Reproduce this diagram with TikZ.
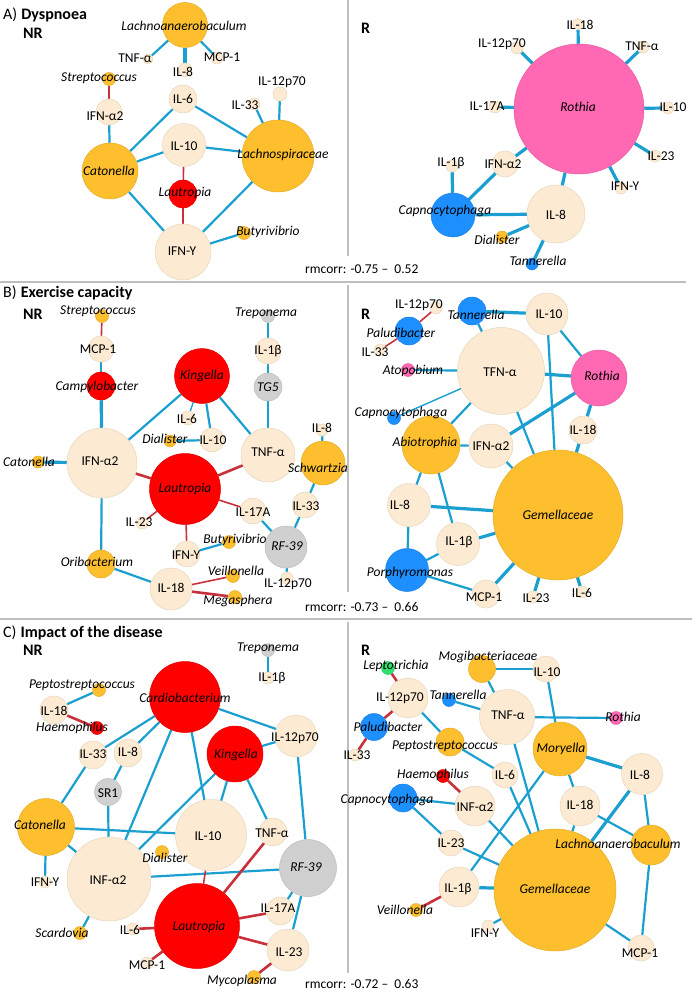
\documentclass[tikz,border=0pt]{standalone}
\usepackage{fontspec}
\setmainfont{Carlito}
\definecolor{cream}{HTML}{FCEBD2}
\definecolor{creamln}{HTML}{E6D6BC}
\definecolor{orng}{HTML}{FDBF2D}
\definecolor{pnk}{HTML}{FF69B4}
\definecolor{blu}{HTML}{1E8FFF}
\definecolor{gry}{HTML}{D0D0D0}
\definecolor{grn}{HTML}{2EE06E}
\definecolor{eblue}{HTML}{1A9FD0}
\definecolor{ered}{HTML}{C8303C}
\definecolor{frame}{HTML}{BFBFBF}
\pgfdeclarelayer{edges}
\pgfdeclarelayer{labels}
\pgfsetlayers{edges,main,labels}
\tikzset{
 nd/.style={circle, inner sep=0pt, line width=0.5pt},
 ncr/.style={nd, fill=cream, draw=creamln},
 nor/.style={nd, fill=orng, draw=orng!90!black},
 nrd/.style={nd, fill=red, draw=red!90!black},
 npk/.style={nd, fill=pnk, draw=pnk!90!black},
 nbl/.style={nd, fill=blu, draw=blu!90!black},
 ngy/.style={nd, fill=gry, draw=gry!90!black},
 ngn/.style={nd, fill=grn, draw=grn!90!black},
 lb/.style={inner sep=0pt, font=\fontsize{13.5}{15}\selectfont, text=black},
 ttl/.style={inner sep=0pt, anchor=west, font=\fontsize{16}{18}\selectfont},
 eb/.style={draw=eblue, line width=2.2pt},
 ek/.style={draw=eblue, line width=3.2pt},
 en/.style={draw=eblue, line width=1.4pt},
 er/.style={draw=ered, line width=1.6pt},
 erk/.style={draw=ered, line width=2.6pt},
 fr/.style={draw=frame, line width=2pt}
}
\newcommand\mynd[8]{\node[#5, minimum size=#4pt] (#1) at (#2,#3) {};
 \begin{pgfonlayer}{labels}\node[lb] (#1-t) at (#6,#7) {#8};\end{pgfonlayer}}
\begin{document}
\begin{tikzpicture}[x=1pt,y=-1pt]
\useasboundingbox (0,0) rectangle (692,992);
% frame
\coordinate (h1a) at (0,282); \coordinate (h1b) at (686,282);
\coordinate (h2a) at (0,619); \coordinate (h2b) at (692,619);
\coordinate (v1a) at (348,0); \coordinate (v1b) at (348,256);
\coordinate (v2a) at (348,285); \coordinate (v2b) at (348,592);
\coordinate (v3a) at (348,622); \coordinate (v3b) at (348,973);
\draw[fr] (h1a) -- (h1b);
\draw[fr] (h2a) -- (h2b);
\draw[fr] (v1a) -- (v1b);
\draw[fr] (v2a) -- (v2b);
\draw[fr] (v3a) -- (v3b);
% titles
\node[ttl] (tA) at (3,15) {A)\hspace{4pt}\textbf{Dyspnoea}};
\node[ttl] (tAnr) at (23,33) {\textbf{NR}};
\node[ttl] (tAr) at (361,28) {\textbf{R}};
\node[ttl] (tB) at (3,293) {B)\hspace{4pt}\textbf{Exercise capacity}};
\node[ttl] (tBnr) at (23,314) {\textbf{NR}};
\node[ttl] (tBr) at (361,314) {\textbf{R}};
\node[ttl] (tC) at (3,633) {C)\hspace{4pt}\textbf{Impact of the disease}};
\node[ttl] (tCnr) at (23,650) {\textbf{NR}};
\node[ttl] (tCr) at (361,650) {\textbf{R}};
\node[lb, anchor=west] (rmA) at (305,269) {rmcorr: -0.75 –\ \ 0.52};
\node[lb, anchor=west] (rmB) at (305,607) {rmcorr: -0.73 –\ \ 0.66};
\node[lb, anchor=west] (rmC) at (305,984) {rmcorr: -0.72 –\ \ 0.63};
% ---------- Panel A NR
\mynd{a1}{185}{25}{45}{nor}{184}{26}{\textit{Lachnoanaerobaculum}}
\mynd{a2}{148}{59}{10}{ncr}{135}{58}{TNF-α}
\mynd{a3}{185}{70}{14}{ncr}{183}{72}{IL-8}
\mynd{a4}{217}{58}{12}{ncr}{222}{57}{MCP-1}
\mynd{a5}{109}{79}{13}{nor}{99}{78}{\textit{Streptococcus}}
\mynd{a6}{109}{112}{26}{ncr}{105}{116}{IFN-α2}
\mynd{a7}{183}{99}{28}{ncr}{183}{99}{IL-6}
\mynd{a8}{254}{104}{12}{ncr}{245}{105}{IL-33}
\mynd{a9}{280}{94}{14}{ncr}{282}{82}{IL-12p70}
\mynd{a10}{278}{156}{72}{nor}{283}{155}{\textit{Lachnospiraceae}}
\mynd{a11}{184}{145}{43}{ncr}{184}{146}{IL-10}
\mynd{a12}{110}{171}{56}{nor}{109}{171}{\textit{Catonella}}
\mynd{a13}{183}{194}{28}{nrd}{185}{193}{\textit{Lautropia}}
\mynd{a14}{183}{252}{56}{ncr}{182}{251}{IFN-Υ}
\mynd{a15}{244}{233}{13}{nor}{268}{232}{\textit{Butyrivibrio}}
% ---------- Panel A R
\mynd{ar1}{579}{109}{130}{npk}{578}{107}{\textit{Rothia}}
\mynd{ar2}{578}{24}{11}{ncr}{580}{25}{IL-18}
\mynd{ar3}{517}{48}{12}{ncr}{502}{44}{IL-12p70}
\mynd{ar4}{643}{47}{12}{ncr}{642}{46}{TNF-α}
\mynd{ar5}{495}{107}{12}{ncr}{487}{106}{IL-17A}
\mynd{ar6}{668}{108}{12}{ncr}{673}{107}{IL-10}
\mynd{ar7}{655}{156}{12}{ncr}{661}{156}{IL-23}
\mynd{ar8}{621}{188}{12}{ncr}{625}{186}{IFN-Υ}
\mynd{ar9}{452}{166}{12}{ncr}{451}{163}{IL-1β}
\mynd{ar10}{505}{164}{26}{ncr}{503}{164}{IFN-α2}
\mynd{ar11}{453}{215}{44}{nbl}{445}{211}{\textit{Capnocytophaga}}
\mynd{ar12}{556}{214}{58}{ncr}{556}{215}{IL-8}
\mynd{ar13}{502}{237}{12}{nor}{497}{240}{\textit{Dialister}}
\mynd{ar14}{532}{264}{12}{nbl}{538}{261}{\textit{Tannerella}}
% ---------- Panel B NR
\mynd{b1}{102}{316}{13}{nor}{98}{311}{\textit{Streptococcus}}
\mynd{b2}{101}{349}{26}{ncr}{98}{349}{MCP-1}
\mynd{b3}{101}{386}{28}{nrd}{97}{387}{\textit{Campylobacter}}
\mynd{b4}{202}{376}{55}{nrd}{202}{376}{\textit{Kingella}}
\mynd{b5}{268}{316}{13}{ngy}{266}{313}{\textit{Treponema}}
\mynd{b6}{268}{351}{26}{ncr}{268}{351}{IL-1β}
\mynd{b7}{268}{387}{28}{ngy}{268}{387}{\textit{TG5}}
\mynd{b8}{188}{418}{14}{ncr}{187}{419}{IL-6}
\mynd{b9}{212}{440}{24}{ncr}{213}{440}{IL-10}
\mynd{b10}{170}{441}{12}{nor}{165}{439}{\textit{Dialister}}
\mynd{b11}{322}{430}{12}{ncr}{322}{428}{IL-8}
\mynd{b12}{268}{455}{54}{ncr}{268}{452}{TNF-α}
\mynd{b13}{323}{463}{44}{nor}{318}{468}{\textit{Schwartzia}}
\mynd{b14}{102}{463}{70}{ncr}{100}{461}{IFN-α2}
\mynd{b15}{38}{462}{12}{nor}{29}{462}{\textit{Catonella}}
\mynd{b16}{185}{489}{71}{nrd}{185}{489}{\textit{Lautropia}}
\mynd{b17}{142}{523}{12}{ncr}{139}{522}{IL-23}
\mynd{b18}{253}{511}{26}{ncr}{253}{512}{IL-17A}
\mynd{b19}{305}{505}{26}{ncr}{306}{506}{IL-33}
\mynd{b20}{286}{547}{42}{ngy}{287}{546}{\textit{RF-39}}
\mynd{b21}{187}{554}{26}{ncr}{186}{555}{IFN-Υ}
\mynd{b22}{229}{542}{13}{nor}{235}{540}{\textit{Butyrivibrio}}
\mynd{b23}{101}{564}{28}{nor}{97}{562}{\textit{Oribacterium}}
\mynd{b24}{171}{589}{42}{ncr}{171}{588}{IL-18}
\mynd{b25}{233}{576}{13}{nor}{236}{571}{\textit{Veillonella}}
\mynd{b26}{235}{597}{13}{nor}{238}{601}{\textit{Megasphera}}
\mynd{b27}{287}{578}{12}{ncr}{288}{584}{IL-12p70}
% ---------- Panel B R
\mynd{br1}{436}{308}{12}{ncr}{419}{305}{IL-12p70}
\mynd{br2}{409}{331}{28}{nbl}{401}{333}{\textit{Paludibacter}}
\mynd{br3}{380}{350}{12}{ncr}{375}{352}{IL-33}
\mynd{br4}{472}{311}{28}{nbl}{476}{315}{\textit{Tannerella}}
\mynd{br5}{547}{314}{42}{ncr}{549}{314}{IL-10}
\mynd{br6}{408}{370}{13}{npk}{413}{371}{\textit{Atopobium}}
\mynd{br7}{501}{371}{87}{ncr}{500}{372}{TFN-α}
\mynd{br8}{599}{378}{56}{npk}{602}{376}{\textit{Rothia}}
\mynd{br9}{394}{418}{13}{nbl}{401}{413}{\textit{Capnocytophaga}}
\mynd{br10}{431}{445}{58}{nor}{425}{443}{\textit{Abiotrophia}}
\mynd{br11}{491}{446}{44}{ncr}{491}{446}{IFN-α2}
\mynd{br12}{583}{430}{28}{ncr}{583}{430}{IL-18}
\mynd{br13}{558}{515}{130}{nor}{558}{515}{\textit{Gemellaceae}}
\mynd{br14}{409}{505}{43}{ncr}{400}{505}{IL-8}
\mynd{br15}{458}{544}{43}{ncr}{459}{542}{IL-1β}
\mynd{br16}{407}{570}{43}{nbl}{410}{573}{\textit{Porphyromonas}}
\mynd{br17}{486}{594}{28}{ncr}{484}{597}{MCP-1}
\mynd{br18}{533}{597}{12}{ncr}{536}{598}{IL-23}
\mynd{br19}{582}{592}{12}{ncr}{582}{593}{IL-6}
% ---------- Panel C NR
\mynd{c1}{268}{650}{13}{ngy}{268}{648}{\textit{Treponema}}
\mynd{c2}{268}{678}{12}{ncr}{272}{678}{IL-1β}
\mynd{c3}{99}{690}{13}{nor}{82}{685}{\textit{Peptostreptococcus}}
\mynd{c4}{54}{710}{28}{ncr}{54}{711}{IL-18}
\mynd{c5}{97}{728}{13}{nrd}{72}{728}{\textit{Haemophilus}}
\mynd{c6}{185}{697}{71}{nrd}{185}{698}{\textit{Cardiobacterium}}
\mynd{c7}{296}{736}{42}{ncr}{295}{738}{IL-12p70}
\mynd{c8}{235}{754}{56}{nrd}{236}{755}{\textit{Kingella}}
\mynd{c9}{93}{755}{28}{ncr}{93}{754}{IL-33}
\mynd{c10}{128}{753}{28}{ncr}{128}{752}{IL-8}
\mynd{c11}{108}{792}{27}{ngy}{108}{793}{SR1}
\mynd{c12}{46}{827}{57}{nor}{40}{825}{\textit{Catonella}}
\mynd{c13}{211}{835}{71}{ncr}{208}{836}{IL-10}
\mynd{c14}{109}{879}{84}{ncr}{108}{880}{INF-α2}
\mynd{c15}{273}{832}{28}{ncr}{272}{833}{TNF-α}
\mynd{c16}{308}{868}{57}{ngy}{306}{867}{\textit{RF-39}}
\mynd{c17}{162}{852}{13}{nor}{165}{858}{\textit{Dialister}}
\mynd{c18}{45}{882}{12}{ncr}{45}{882}{IFN-Υ}
\mynd{c19}{80}{933}{13}{nor}{62}{933}{\textit{Scardovia}}
\mynd{c20}{197}{926}{85}{nrd}{199}{927}{\textit{Lautropia}}
\mynd{c21}{133}{929}{12}{ncr}{130}{930}{IL-6}
\mynd{c22}{147}{963}{12}{ncr}{147}{965}{MCP-1}
\mynd{c23}{280}{911}{28}{ncr}{278}{908}{IL-17A}
\mynd{c24}{288}{950}{42}{ncr}{289}{952}{IL-23}
\mynd{c25}{254}{977}{13}{nor}{242}{981}{\textit{Mycoplasma}}
% ---------- Panel C R
\mynd{cr1}{388}{668}{13}{ngn}{396}{666}{\textit{Leptotrichia}}
\mynd{cr2}{408}{698}{40}{ncr}{400}{698}{IL-12p70}
\mynd{cr3}{374}{727}{27}{nbl}{388}{727}{\textit{Paludibacter}}
\mynd{cr4}{355}{755}{12}{ncr}{357}{755}{IL-33}
\mynd{cr5}{482}{669}{27}{nor}{488}{657}{\textit{Mogibacteriaceae}}
\mynd{cr6}{546}{669}{26}{ncr}{547}{672}{IL-10}
\mynd{cr7}{449}{700}{13}{nbl}{458}{695}{\textit{Tannerella}}
\mynd{cr8}{507}{717}{55}{ncr}{508}{715}{TNF-α}
\mynd{cr9}{616}{718}{13}{npk}{623}{717}{\textit{Rothia}}
\mynd{cr10}{560}{749}{54}{nor}{561}{749}{\textit{Moryella}}
\mynd{cr11}{450}{742}{28}{nor}{445}{746}{\textit{Peptostreptococcus}}
\mynd{cr12}{505}{775}{26}{ncr}{505}{775}{IL-6}
\mynd{cr13}{642}{774}{41}{ncr}{640}{775}{IL-8}
\mynd{cr14}{443}{776}{13}{nrd}{433}{775}{\textit{Haemophilus}}
\mynd{cr15}{475}{806}{40}{ncr}{475}{807}{INF-α2}
\mynd{cr16}{403}{798}{28}{nbl}{387}{800}{\textit{Capnocytophaga}}
\mynd{cr17}{580}{806}{40}{ncr}{580}{805}{IL-18}
\mynd{cr18}{651}{845}{40}{nor}{618}{844}{\textit{Lachnoanaerobaculum}}
\mynd{cr19}{555}{890}{122}{nor}{555}{889}{\textit{Gemellaceae}}
\mynd{cr20}{451}{843}{26}{ncr}{451}{843}{IL-23}
\mynd{cr21}{459}{887}{40}{ncr}{458}{889}{IL-1β}
\mynd{cr22}{416}{910}{13}{nor}{405}{910}{\textit{Veillonella}}
\mynd{cr23}{488}{926}{12}{ncr}{485}{933}{IFN-Υ}
\mynd{cr24}{641}{948}{26}{ncr}{640}{953}{MCP-1}
% ================= edges
\begin{pgfonlayer}{edges}
% A NR
\draw[eb] (a1) -- (a2); \draw[ek] (a1) -- (a3); \draw[eb] (a1) -- (a4);
\draw[er] (a5) -- (a6); \draw[eb] (a6) -- (a12);
\draw[eb] (a7) -- (a12); \draw[eb] (a7) -- (a10);
\draw[eb] (a8) -- (a10); \draw[eb] (a9) -- (a10);
\draw[eb] (a12) -- (a11); \draw[eb] (a11) -- (a10);
\draw[er] (a11) -- (a13); \draw[er] (a13) -- (a14);
\draw[eb] (a12) -- (a14); \draw[eb] (a10) -- (a14); \draw[eb] (a14) -- (a15);
% A R
\foreach \t in {ar2,ar3,ar4,ar5,ar6,ar7,ar8,ar10,ar12} {\draw[ek] (ar1) -- (\t);}
\draw[ek] (ar9) -- (ar11); \draw[ek] (ar10) -- (ar11); \draw[ek] (ar11) -- (ar12);
\draw[ek] (ar12) -- (ar13); \draw[ek] (ar12) -- (ar14);
% B NR
\draw[er] (b1) -- (b2); \draw[eb] (b2) -- (b3); \draw[ek] (b3) -- (b14);
\draw[eb] (b4) -- (b14); \draw[en] (b4) -- (b8); \draw[eb] (b4) -- (b9); \draw[eb] (b4) -- (b12);
\draw[eb] (b10) -- (b9); \draw[eb] (b5) -- (b6); \draw[eb] (b6) -- (b7); \draw[eb] (b7) -- (b12);
\draw[eb] (b11) -- (b13); \draw[erk] (b12) -- (b16); \draw[erk] (b14) -- (b16);
\draw[ek] (b15) -- (b14); \draw[eb] (b14) -- (b23);
\draw[er] (b16) -- (b17); \draw[er] (b16) -- (b18); \draw[er] (b16) -- (b21);
\draw[eb] (b13) -- (b19); \draw[eb] (b19) -- (b20); \draw[eb] (b18) -- (b20);
\draw[eb] (b21) -- (b22); \draw[eb] (b20) -- (b27); \draw[eb] (b23) -- (b24);
\draw[er] (b24) -- (b25); \draw[erk] (b24) -- (b26);
% B R
\draw[er] (br1) -- (br2); \draw[er] (br2) -- (br3);
\draw[ek] (br4) -- (br5); \draw[eb] (br4) -- (br7); \draw[eb] (br6) -- (br7);
\draw[ek] (br7) -- (br8); \draw[eb] (br5) -- (br8); \draw[en] (br9) -- (br7);
\draw[ek] (br8) -- (br12); \draw[ek] (br8) -- (br11);
\draw[eb] (br7) -- (br10); \draw[eb] (br10) -- (br11);
\draw[eb] (br5) -- (br13); \draw[eb] (br7) -- (br13); \draw[ek] (br12) -- (br13); \draw[eb] (br11) -- (br13);
\draw[eb] (br10) -- (br14); \draw[eb] (br10) -- (br15);
\draw[ek] (br14) -- (br13); \draw[ek] (br15) -- (br13);
\draw[eb] (br14) -- (br16); \draw[eb] (br15) -- (br16); \draw[eb] (br16) -- (br17);
\draw[ek] (br17) -- (br13); \draw[ek] (br13) -- (br18); \draw[ek] (br13) -- (br19);
% C NR
\draw[eb] (c1) -- (c2); \draw[eb] (c3) -- (c4); \draw[erk] (c4) -- (c5);
\draw[eb] (c6) -- (c7); \draw[eb] (c8) -- (c7); \draw[eb] (c6) -- (c9); \draw[eb] (c6) -- (c10);
\draw[eb] (c10) -- (c11); \draw[eb] (c9) -- (c12); \draw[eb] (c6) -- (c14); \draw[eb] (c6) -- (c13);
\draw[eb] (c8) -- (c14); \draw[eb] (c8) -- (c13); \draw[eb] (c8) -- (c15); \draw[eb] (c7) -- (c16);
\draw[eb] (c11) -- (c14); \draw[eb] (c12) -- (c13); \draw[eb] (c12) -- (c14); \draw[eb] (c12) -- (c18);
\draw[eb] (c14) -- (c19); \draw[eb] (c14) -- (c16);
\draw[er] (c13) -- (c20); \draw[erk] (c15) -- (c20); \draw[erk] (c20) -- (c21); \draw[erk] (c20) -- (c22);
\draw[erk] (c20) -- (c23); \draw[erk] (c20) -- (c24);
\draw[eb] (c23) -- (c16); \draw[eb] (c16) -- (c24); \draw[erk] (c24) -- (c25);
% C R
\draw[erk] (cr1) -- (cr2); \draw[erk] (cr2) -- (cr3); \draw[erk] (cr3) -- (cr4);
\draw[eb] (cr5) -- (cr6); \draw[eb] (cr5) -- (cr8); \draw[eb] (cr7) -- (cr8); \draw[eb] (cr8) -- (cr9);
\draw[eb] (cr6) -- (cr10); \draw[eb] (cr2) -- (cr11); \draw[eb] (cr11) -- (cr12);
\draw[ek] (cr10) -- (cr13); \draw[erk] (cr14) -- (cr15); \draw[eb] (cr16) -- (cr15); \draw[eb] (cr16) -- (cr20);
\draw[eb] (cr10) -- (cr17); \draw[eb] (cr10) -- (cr21);
\draw[eb] (cr8) -- (cr19); \draw[eb] (cr12) -- (cr19); \draw[eb] (cr15) -- (cr19); \draw[eb] (cr20) -- (cr19);
\draw[ek] (cr21) -- (cr19); \draw[erk] (cr21) -- (cr22); \draw[eb] (cr23) -- (cr19);
\draw[eb] (cr17) -- (cr19); \draw[eb] (cr17) -- (cr18); \draw[eb] (cr13) -- (cr18); \draw[ek] (cr13) -- (cr19);
\draw[eb] (cr18) -- (cr24); \draw[eb] (cr19) -- (cr24);
\end{pgfonlayer}
\end{tikzpicture}
\end{document}
